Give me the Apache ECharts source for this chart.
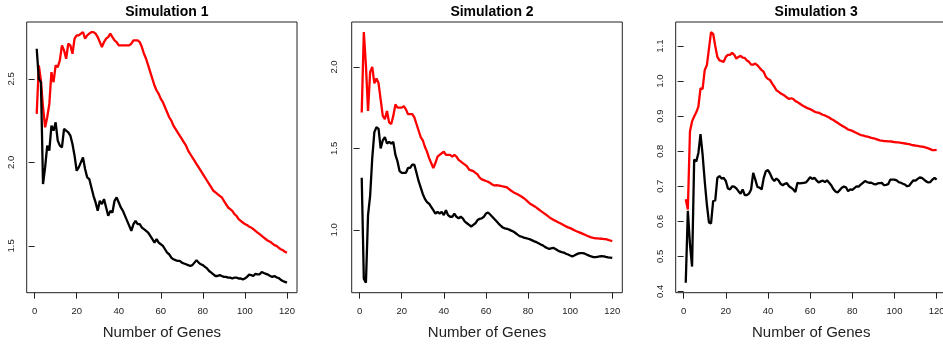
<!DOCTYPE html>
<html>
<head>
<meta charset="utf-8">
<script src="https://cdn.jsdelivr.net/npm/echarts@6/dist/echarts.min.js"></script>
<style>
    html, body { margin: 0; padding: 0; background: #fff; }
    #chart { width: 943px; height: 344px; }
</style>
</head>
<body>
<div id="chart"></div>
<script>
// number of genes on the x axis (1..120)
const genes = Array.from({ length: 120 }, (_, i) => i + 1);
const xTicks = [0, 20, 40, 60, 80, 100, 120];
const titles = ['Simulation 1', 'Simulation 2', 'Simulation 3'];
const xName = 'Number of Genes';

// Simulation 1
const sim1Red = [
    2.29, 2.58, 2.49, 2.33, 2.21, 2.27, 2.35, 2.54, 2.48, 2.58,
    2.57, 2.61, 2.70, 2.67, 2.62, 2.71, 2.70, 2.65, 2.74, 2.76,
    2.76, 2.77, 2.78, 2.74, 2.76, 2.77, 2.78, 2.78, 2.77, 2.75,
    2.72, 2.69, 2.72, 2.74, 2.75, 2.77, 2.75, 2.73, 2.72, 2.70,
    2.70, 2.70, 2.70, 2.70, 2.70, 2.71, 2.73, 2.73, 2.73, 2.72,
    2.69, 2.65, 2.62, 2.58, 2.54, 2.50, 2.46, 2.43, 2.41, 2.38,
    2.36, 2.33, 2.30, 2.27, 2.25, 2.22, 2.20, 2.18, 2.16, 2.14,
    2.12, 2.10, 2.07, 2.05, 2.03, 2.01, 1.99, 1.97, 1.95, 1.93,
    1.91, 1.89, 1.87, 1.85, 1.83, 1.82, 1.81, 1.80, 1.79, 1.77,
    1.75, 1.73, 1.72, 1.71, 1.69, 1.68, 1.66, 1.65, 1.64, 1.63,
    1.625, 1.615, 1.61, 1.60, 1.59, 1.58, 1.57, 1.56, 1.55, 1.54,
    1.53, 1.525, 1.515, 1.505, 1.50, 1.49, 1.48, 1.475, 1.465, 1.46
];
const sim1Black = [
    2.68, 2.50, 2.48, 1.87, 1.97, 2.10, 2.07, 2.22, 2.19, 2.24,
    2.13, 2.10, 2.09, 2.20, 2.19, 2.18, 2.16, 2.11, 2.04, 1.95,
    1.97, 2.00, 2.03, 1.96, 1.91, 1.90, 1.85, 1.80, 1.76, 1.71,
    1.77, 1.75, 1.78, 1.73, 1.68, 1.71, 1.70, 1.77, 1.79, 1.76,
    1.73, 1.71, 1.68, 1.65, 1.62, 1.59, 1.63, 1.65, 1.63, 1.63,
    1.61, 1.60, 1.59, 1.58, 1.56, 1.54, 1.52, 1.54, 1.52, 1.51,
    1.50, 1.48, 1.46, 1.45, 1.43, 1.42, 1.415, 1.41, 1.41, 1.40,
    1.395, 1.39, 1.385, 1.38, 1.385, 1.40, 1.415, 1.40, 1.39, 1.385,
    1.375, 1.365, 1.35, 1.34, 1.33, 1.32, 1.32, 1.325, 1.32, 1.315,
    1.315, 1.31, 1.31, 1.305, 1.31, 1.31, 1.305, 1.305, 1.30, 1.305,
    1.315, 1.328, 1.325, 1.32, 1.333, 1.33, 1.33, 1.344, 1.338, 1.333,
    1.328, 1.32, 1.315, 1.32, 1.312, 1.308, 1.298, 1.29, 1.285, 1.28
];
const sim1YTicks = [1.5, 2.0, 2.5];

// Simulation 2
const sim2Red = [
    1.72, 2.215, 2.01, 1.73, 1.97, 2.00, 1.90, 1.93, 1.90, 1.80,
    1.70, 1.68, 1.73, 1.66, 1.65, 1.70, 1.77, 1.75, 1.75, 1.75,
    1.76, 1.74, 1.71, 1.71, 1.71, 1.69, 1.65, 1.61, 1.57, 1.55,
    1.51, 1.48, 1.44, 1.41, 1.38, 1.41, 1.45, 1.46, 1.47, 1.48,
    1.46, 1.46, 1.46, 1.45, 1.46, 1.45, 1.43, 1.42, 1.41, 1.40,
    1.39, 1.37, 1.365, 1.36, 1.35, 1.34, 1.32, 1.31, 1.305, 1.30,
    1.295, 1.287, 1.278, 1.272, 1.275, 1.272, 1.27, 1.266, 1.264, 1.26,
    1.25, 1.24, 1.231, 1.224, 1.218, 1.211, 1.203, 1.194, 1.184, 1.172,
    1.16, 1.152, 1.144, 1.136, 1.126, 1.116, 1.107, 1.098, 1.088, 1.078,
    1.069, 1.061, 1.055, 1.048, 1.042, 1.035, 1.028, 1.021, 1.015, 1.01,
    1.004, 0.997, 0.991, 0.986, 0.981, 0.975, 0.969, 0.963, 0.958, 0.953,
    0.95, 0.948, 0.947, 0.946, 0.945, 0.943, 0.942, 0.938, 0.934, 0.93
];
const sim2Black = [
    1.32, 0.70, 0.675, 1.09, 1.21, 1.44, 1.60, 1.63, 1.62, 1.50,
    1.55, 1.57, 1.53, 1.54, 1.53, 1.54, 1.46, 1.42, 1.36, 1.35,
    1.35, 1.35, 1.38, 1.38, 1.40, 1.40, 1.35, 1.30, 1.26, 1.22,
    1.19, 1.17, 1.16, 1.14, 1.12, 1.10, 1.11, 1.10, 1.11, 1.09,
    1.12, 1.09, 1.08, 1.08, 1.10, 1.08, 1.07, 1.08, 1.07, 1.05,
    1.04, 1.03, 1.02, 1.03, 1.04, 1.06, 1.067, 1.07, 1.08, 1.10,
    1.106, 1.094, 1.08, 1.066, 1.052, 1.038, 1.025, 1.014, 1.009, 1.006,
    1.001, 0.995, 0.989, 0.98, 0.97, 0.961, 0.957, 0.952, 0.949, 0.945,
    0.941, 0.935, 0.929, 0.924, 0.917, 0.91, 0.904, 0.895, 0.888, 0.883,
    0.886, 0.889, 0.882, 0.874, 0.867, 0.863, 0.86, 0.853, 0.848, 0.842,
    0.837, 0.842, 0.849, 0.855, 0.857, 0.856, 0.853, 0.847, 0.841, 0.836,
    0.832, 0.832, 0.834, 0.836, 0.838, 0.837, 0.833, 0.83, 0.829, 0.828
];
const sim2YTicks = [1.0, 1.5, 2.0];

// Simulation 3
const sim3Red = [
    0.663, 0.634, 0.856, 0.885, 0.899, 0.911, 0.927, 0.979, 0.978, 1.031,
    1.045, 1.092, 1.14, 1.135, 1.10, 1.069, 1.059, 1.057, 1.055, 1.069,
    1.075, 1.075, 1.081, 1.075, 1.064, 1.069, 1.072, 1.067, 1.066, 1.059,
    1.055, 1.047, 1.047, 1.05, 1.045, 1.038, 1.031, 1.026, 1.012, 1.006,
    1.003, 0.993, 0.984, 0.974, 0.97, 0.965, 0.962, 0.958, 0.953, 0.949,
    0.951, 0.949, 0.943, 0.94, 0.936, 0.932, 0.928, 0.925, 0.922, 0.92,
    0.917, 0.913, 0.911, 0.91, 0.907, 0.904, 0.902, 0.899, 0.896, 0.892,
    0.889, 0.885, 0.881, 0.877, 0.873, 0.87, 0.866, 0.862, 0.86, 0.858,
    0.855, 0.852, 0.849, 0.846, 0.845, 0.843, 0.842, 0.84, 0.838, 0.837,
    0.835, 0.833, 0.831, 0.83, 0.829, 0.829, 0.828, 0.828, 0.827, 0.826,
    0.825, 0.825, 0.824, 0.823, 0.822, 0.821, 0.82, 0.818, 0.817, 0.816,
    0.815, 0.814, 0.813, 0.812, 0.81, 0.808, 0.806, 0.803, 0.803, 0.804
];
const sim3Black = [
    0.425, 0.63, 0.535, 0.471, 0.776, 0.771, 0.795, 0.849, 0.79, 0.715,
    0.649, 0.597, 0.594, 0.658, 0.66, 0.724, 0.729, 0.722, 0.724, 0.715,
    0.694, 0.691, 0.70, 0.699, 0.694, 0.686, 0.679, 0.691, 0.675, 0.675,
    0.679, 0.691, 0.738, 0.719, 0.698, 0.696, 0.691, 0.724, 0.743, 0.746,
    0.736, 0.722, 0.715, 0.722, 0.717, 0.707, 0.703, 0.707, 0.709, 0.70,
    0.696, 0.691, 0.684, 0.71, 0.708, 0.709, 0.71, 0.711, 0.718, 0.726,
    0.721, 0.724, 0.717, 0.711, 0.714, 0.716, 0.712, 0.717, 0.71, 0.703,
    0.692, 0.685, 0.682, 0.689, 0.696, 0.699, 0.697, 0.686, 0.691, 0.69,
    0.695, 0.70, 0.699, 0.705, 0.71, 0.715, 0.712, 0.71, 0.71, 0.707,
    0.705, 0.708, 0.709, 0.71, 0.703, 0.704, 0.706, 0.719, 0.719, 0.719,
    0.717, 0.712, 0.71, 0.707, 0.705, 0.70, 0.702, 0.71, 0.717, 0.716,
    0.721, 0.725, 0.724, 0.719, 0.714, 0.711, 0.712, 0.719, 0.724, 0.719
];
const sim3YTicks = [0.4, 0.5, 0.6, 0.7, 0.8, 0.9, 1.0, 1.1];

const panels = [
    { red: sim1Red, black: sim1Black, yTicks: sim1YTicks, left: 26.7, width: 270.3, labelMargin: 10 },
    { red: sim2Red, black: sim2Black, yTicks: sim2YTicks, left: 351.7, width: 270.6, labelMargin: 12.5 },
    { red: sim3Red, black: sim3Black, yTicks: sim3YTicks, left: 675.7, width: 271, labelMargin: 10 }
];

const font = 'Liberation Sans, Arial, Helvetica, sans-serif';

// R style range: data range stretched by 4% each side
const padRange = (values) => {
    const lo = Math.min(...values);
    const hi = Math.max(...values);
    const d = (hi - lo) * 0.04;
    return [lo - d, hi + d];
};
const xRange = padRange(genes);

const toPairs = (values) => values.map((v, i) => [genes[i], v]);

const options = {
    animation: false,
    backgroundColor: '#fff',
    title: [],
    grid: [],
    xAxis: [],
    yAxis: [],
    series: []
};

panels.forEach((p, i) => {
    const yRange = padRange(p.red.concat(p.black));

    options.title.push({
        text: titles[i],
        left: p.left + p.width / 2,
        top: 0,
        textAlign: 'center',
        textStyle: { fontFamily: font, fontSize: 14, fontWeight: 'bold', color: '#000' }
    });

    // the last panel runs past the right edge of the picture, so no outer bounds
    options.grid.push({
        left: p.left,
        top: 22,
        width: p.width,
        height: 270.7,
        outerBoundsMode: 'none',
        show: true,
        borderColor: '#222',
        borderWidth: 1,
        backgroundColor: 'transparent'
    });

    options.xAxis.push({
        type: 'value',
        gridIndex: i,
        min: xRange[0],
        max: xRange[1],
        name: xName,
        nameLocation: 'middle',
        nameGap: 33,
        nameTextStyle: { fontFamily: font, fontSize: 15, color: '#222' },
        axisLine: { show: false },
        axisTick: { show: true, length: 6, customValues: xTicks, lineStyle: { color: '#222' } },
        axisLabel: { customValues: xTicks, margin: 14, fontFamily: font, fontSize: 9.5, color: '#222' },
        splitLine: { show: false }
    });

    options.yAxis.push({
        type: 'value',
        gridIndex: i,
        min: yRange[0],
        max: yRange[1],
        axisLine: { show: false },
        axisTick: { show: true, length: 6, customValues: p.yTicks, lineStyle: { color: '#222' } },
        axisLabel: {
            customValues: p.yTicks,
            rotate: 90,
            margin: p.labelMargin,
            fontFamily: font,
            fontSize: 9.5,
            color: '#222',
            formatter: (v) => Number(v).toFixed(1)
        },
        splitLine: { show: false }
    });

    options.series.push(
        {
            type: 'line',
            xAxisIndex: i,
            yAxisIndex: i,
            data: toPairs(p.red),
            showSymbol: false,
            lineStyle: { color: '#ff0000', width: 2.3 },
            z: 2
        },
        {
            type: 'line',
            xAxisIndex: i,
            yAxisIndex: i,
            data: toPairs(p.black),
            showSymbol: false,
            lineStyle: { color: '#000000', width: 2.3 },
            z: 3
        }
    );
});

const chartLine = echarts.init(document.getElementById('chart'), null, { renderer: 'canvas' });
chartLine.setOption(options);
</script>
</body>
</html>
